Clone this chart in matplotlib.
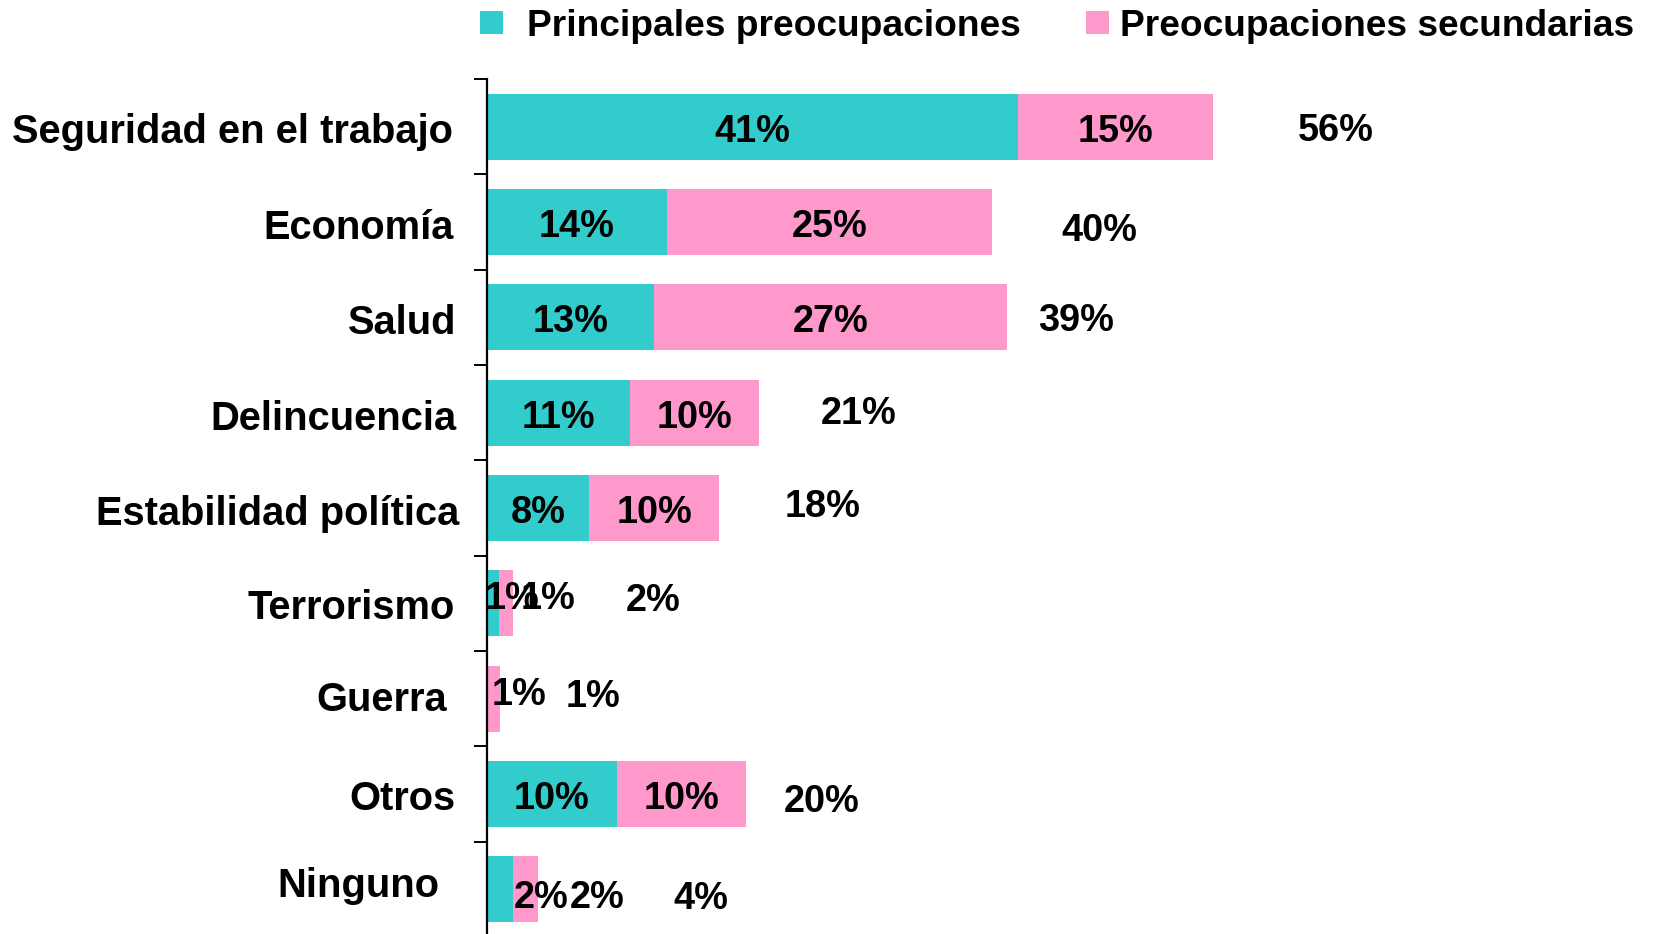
import matplotlib
matplotlib.use("Agg")
import matplotlib.pyplot as plt
from matplotlib.patches import Rectangle
from matplotlib.transforms import offset_copy

# ---------------- data ----------------
categories = ["Seguridad en el trabajo", "Economía", "Salud", "Delincuencia",
              "Estabilidad política", "Terrorismo", "Guerra", "Otros", "Ninguno"]
principales = [41.0, 13.9, 12.9, 11.0, 7.9, 0.9, 0.0, 10.0, 2.0]
secundarias = [15.0, 25.1, 27.2, 10.0, 10.0, 1.1, 1.0, 10.0, 1.9]
principales_lbl = ["41%", "14%", "13%", "11%", "8%", "1%", "", "10%", "2%"]
secundarias_lbl = ["15%", "25%", "27%", "10%", "10%", "1%", "1%", "10%", "2%"]
total_lbl = ["56%", "40%", "39%", "21%", "18%", "2%", "1%", "20%", "4%"]
series_names = ["Principales preocupaciones", "Preocupaciones secundarias"]

# ---------------- layout / style ----------------
TEAL = "#33CCCC"
PINK = "#FF99CC"
FONT = "Liberation Sans"
NUM_SIZE = 27.3
CAT_SIZE = 28.7
LEG_SIZE = 26.7

# label placement (x in % units where not centred, y offsets in pixels, + = down)
total_x = [65.5, 47.3, 45.5, 28.7, 25.9, 12.8, 8.2, 25.8, 16.5]
total_dy = [4, 9, 4, 1, -1, -2, -2, 8, 10]
inner_override = {(5, 0): (1.9, -4), (5, 1): (4.7, -4), (6, 1): (2.5, -4),
                  (8, 0): (4.2, 9), (8, 1): (8.5, 9)}
cat_dx = [34, 33, 31, 31, 28, 32, 40, 32, 48]
cat_dy = [5, 6, 6, 6, 6, 5, 1, 5, -3]

W, H = 1653, 934
fig = plt.figure(figsize=(W / 100, H / 100), dpi=100)
ax_left, ax_top, ax_bottom = 487, 79, 937
ax = fig.add_axes([ax_left / W, 1 - ax_bottom / H, 1 - ax_left / W, (ax_bottom - ax_top) / H])

n = len(categories)
ypos = list(range(n))
ax.barh(ypos, principales, height=0.69, color=TEAL, edgecolor="none")
ax.barh(ypos, secundarias, left=principales, height=0.69, color=PINK, edgecolor="none")

ax.set_xlim(0, 90)
ax.set_ylim(n - 0.5, -0.5)

for s in ["top", "right", "bottom"]:
    ax.spines[s].set_visible(False)
ax.spines["left"].set_linewidth(1.6)
ax.spines["left"].set_color("black")
ax.set_xticks([])
ax.set_yticks([i - 0.5 for i in range(n)])
ax.set_yticklabels([])
ax.tick_params(axis="y", direction="out", length=9.5, width=1.4, color="black")

txt_kw = dict(fontfamily=FONT, fontweight="bold", color="black")

def ptrans(dx, dy):
    return offset_copy(ax.transData, fig=fig, x=dx, y=-dy, units="dots")

for i in range(n):
    segs = [(0, principales[i], principales_lbl[i]),
            (principales[i], secundarias[i], secundarias_lbl[i])]
    for k, (start, width, lbl) in enumerate(segs):
        if not lbl:
            continue
        if (i, k) in inner_override:
            x, dy = inner_override[(i, k)]
        else:
            x, dy = start + width / 2, 5
        ax.text(x, i, lbl, ha="center", va="center", fontsize=NUM_SIZE,
                transform=ptrans(0, dy), **txt_kw)
    ax.text(total_x[i], i, total_lbl[i], ha="center", va="center", fontsize=NUM_SIZE,
            transform=ptrans(0, total_dy[i]), **txt_kw)
    # category labels
    tr = offset_copy(ax.get_yaxis_transform(), fig=fig, x=-cat_dx[i], y=-cat_dy[i], units="dots")
    ax.text(0, i, categories[i], ha="right", va="center", fontsize=CAT_SIZE,
            transform=tr, **txt_kw)

# legend
leg_items = [(480, 527, TEAL, series_names[0]), (1086, 1120, PINK, series_names[1])]
for sx, tx, col, name in leg_items:
    fig.patches.append(Rectangle((sx / W, 1 - 34 / H), 23 / W, 23 / H,
                                 transform=fig.transFigure, facecolor=col, edgecolor="none"))
    fig.text(tx / W, 1 - 27 / H, name, ha="left", va="center", fontsize=LEG_SIZE, **txt_kw)

fig.savefig("out.png", dpi=100)
